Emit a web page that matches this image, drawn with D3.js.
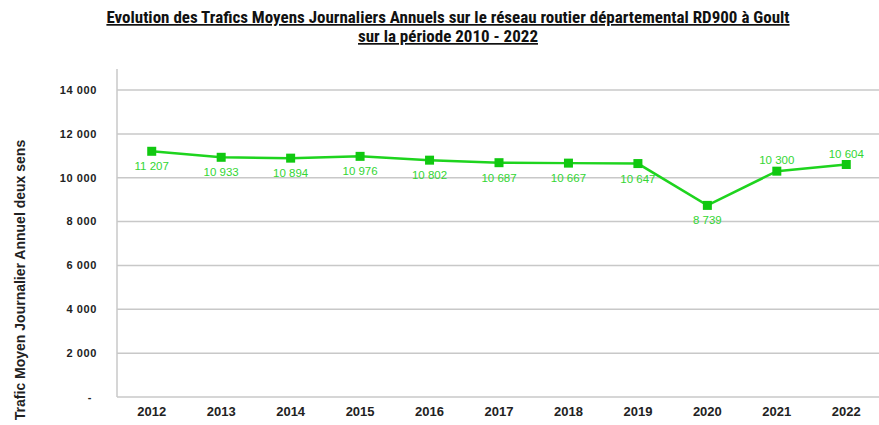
<!DOCTYPE html>
<html><head><meta charset="utf-8">
<script src="https://cdn.jsdelivr.net/npm/d3@7/dist/d3.min.js"></script>
<style>body{margin:0;background:#fff;}svg{display:block;}</style>
</head><body><svg id="c" width="879" height="425"></svg>
<script>
const years = ["2012","2013","2014","2015","2016","2017","2018","2019","2020","2021","2022"];
const values = [11207,10933,10894,10976,10802,10687,10667,10647,8739,10300,10604];
const labelPos = ["below","below","below","below","below","below","below","below","below","above","above"];
const yTicks = [0,2000,4000,6000,8000,10000,12000,14000];
const titleLines = ["Evolution des Trafics Moyens Journaliers Annuels sur le réseau routier départemental RD900 à Goult","sur la période 2010 - 2022"];
const yTitle = "Trafic Moyen Journalier Annuel deux sens";

(function(){
const svg = d3.select("#c");
const narrow = "'Liberation Sans Narrow','Roboto Condensed','Liberation Sans',Arial,sans-serif";
const wide = "'Liberation Sans',Arial,sans-serif";
const mL = 117, mR = 881, mT = 69, mB = 397;
const x = d3.scaleBand().domain(years).range([mL, mR]);
const y = d3.scaleLinear().domain([0, 14960]).range([mB, mT]);
const fmt = v => v === 0 ? "-" : d3.format(",")(v).replace(/,/g, " ");

svg.append("g").selectAll("line").data(yTicks.filter(d => d > 0)).join("line")
  .attr("x1", mL).attr("x2", 879).attr("y1", d => y(d)).attr("y2", d => y(d))
  .attr("stroke", "#c8c8c8").attr("stroke-width", 1.5);
svg.append("line").attr("x1", mL).attr("x2", mL).attr("y1", mT).attr("y2", mB)
  .attr("stroke", "#c8c8c8").attr("stroke-width", 1.5);
svg.append("line").attr("x1", mL).attr("x2", 879).attr("y1", mB).attr("y2", mB)
  .attr("stroke", "#c8c8c8").attr("stroke-width", 1.5);

svg.append("g").selectAll("text").data(yTicks).join("text")
  .attr("x", d => d === 0 ? 92 : 97).attr("y", d => y(d)).attr("dy", "0.35em")
  .attr("text-anchor", "end").attr("font-family", wide).attr("font-weight", "bold")
  .attr("font-size", 11).attr("letter-spacing", 0.6).attr("fill", "#222").text(fmt);

svg.append("g").selectAll("text").data(years).join("text")
  .attr("x", d => x(d) + x.bandwidth() / 2).attr("y", 416)
  .attr("text-anchor", "middle").attr("font-family", wide).attr("font-weight", "bold")
  .attr("font-size", 13).attr("fill", "#222").text(d => d);

svg.append("text").attr("transform", "translate(25,280) rotate(-90)")
  .attr("text-anchor", "middle").attr("font-family", wide).attr("font-weight", "bold")
  .attr("font-size", 14).attr("fill", "#222").text(yTitle);

titleLines.forEach((t, i) => {
  svg.append("text").attr("x", 448).attr("y", 23 + i * 19)
    .attr("text-anchor", "middle").attr("font-family", narrow).attr("font-weight", "bold")
    .attr("font-size", 17).attr("fill", "#111").attr("text-decoration", "underline").text(t);
});

const pts = years.map((yr, i) => ({yr, v: values[i], pos: labelPos[i]}));
const cx = d => x(d.yr) + x.bandwidth() / 2;

svg.append("path").datum(pts)
  .attr("d", d3.line().x(cx).y(d => y(d.v)))
  .attr("fill", "none").attr("stroke", "#1ed41e").attr("stroke-width", 2.5);

svg.append("g").selectAll("rect").data(pts).join("rect")
  .attr("x", d => cx(d) - 4.5).attr("y", d => y(d.v) - 4.5)
  .attr("width", 9).attr("height", 9).attr("fill", "#10c810");

svg.append("g").selectAll("text").data(pts).join("text")
  .attr("x", cx).attr("y", d => y(d.v) + (d.pos === "above" ? -11 : 15)).attr("dy", "0.35em")
  .attr("text-anchor", "middle").attr("font-family", wide)
  .attr("font-size", 11.5).attr("fill", "#33d633").text(d => fmt(d.v));
})();
</script></body></html>
